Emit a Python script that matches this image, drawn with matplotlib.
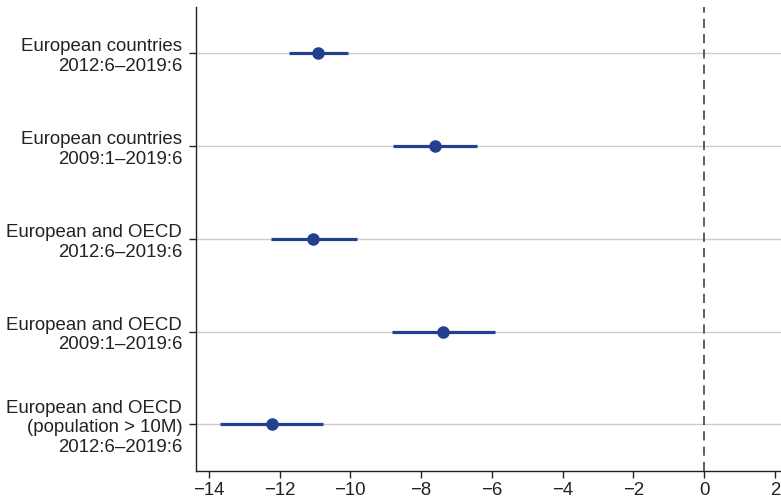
import numpy as np
import matplotlib.pyplot as plt

plt.rcParams['font.family'] = ['Liberation Sans', 'DejaVu Sans']

# Estimates (effect) with confidence interval bounds, top row first
labels = [
    "European countries\n2012:6\u20132019:6",
    "European countries\n2009:1\u20132019:6",
    "European and OECD\n2012:6\u20132019:6",
    "European and OECD\n2009:1\u20132019:6",
    "European and OECD\n(population > 10M)\n2012:6\u20132019:6",
]
estimate = [-10.90, -7.60, -11.05, -7.37, -12.22]
ci_low = [-11.73, -8.78, -12.25, -8.83, -13.68]
ci_high = [-10.07, -6.41, -9.81, -5.90, -10.78]
xticks = [-14, -12, -10, -8, -6, -4, -2, 0, 2]

blue = '#22408f'
rows = np.arange(1, len(labels) + 1)

fig = plt.figure(figsize=(7.81, 5.03), dpi=100)
ax = fig.add_axes([0.251, 0.064, 0.749, 0.922])

ax.hlines(rows, ci_low, ci_high, color=blue, lw=2.3, zorder=3)
ax.plot(estimate, rows, 'o', color=blue, ms=8, zorder=4)
ax.axvline(0, color='#333333', lw=1.1, ls=(0, (6, 4)), zorder=2)

ax.set_xlim(-14.36, 2.17)
ax.set_ylim(5.5, 0.5)
ax.set_yticks(rows)
ax.set_yticklabels(labels, fontsize=13.4, color='#222222', linespacing=1.2)
ax.set_xticks(xticks)
ax.set_xticklabels([str(t).replace('-', '\u2212') for t in xticks],
                   fontsize=13.4, color='#222222')
ax.grid(axis='y', color='#cccccc', lw=1.0, zorder=1)
ax.tick_params(axis='both', direction='out', length=5, width=1, color='#222222')
ax.tick_params(axis='y', pad=5)
ax.tick_params(axis='x', pad=3)

for side in ['top', 'right']:
    ax.spines[side].set_visible(False)
for side in ['left', 'bottom']:
    ax.spines[side].set_color('#222222')
    ax.spines[side].set_linewidth(1.0)

fig.savefig('out.png', dpi=100)
